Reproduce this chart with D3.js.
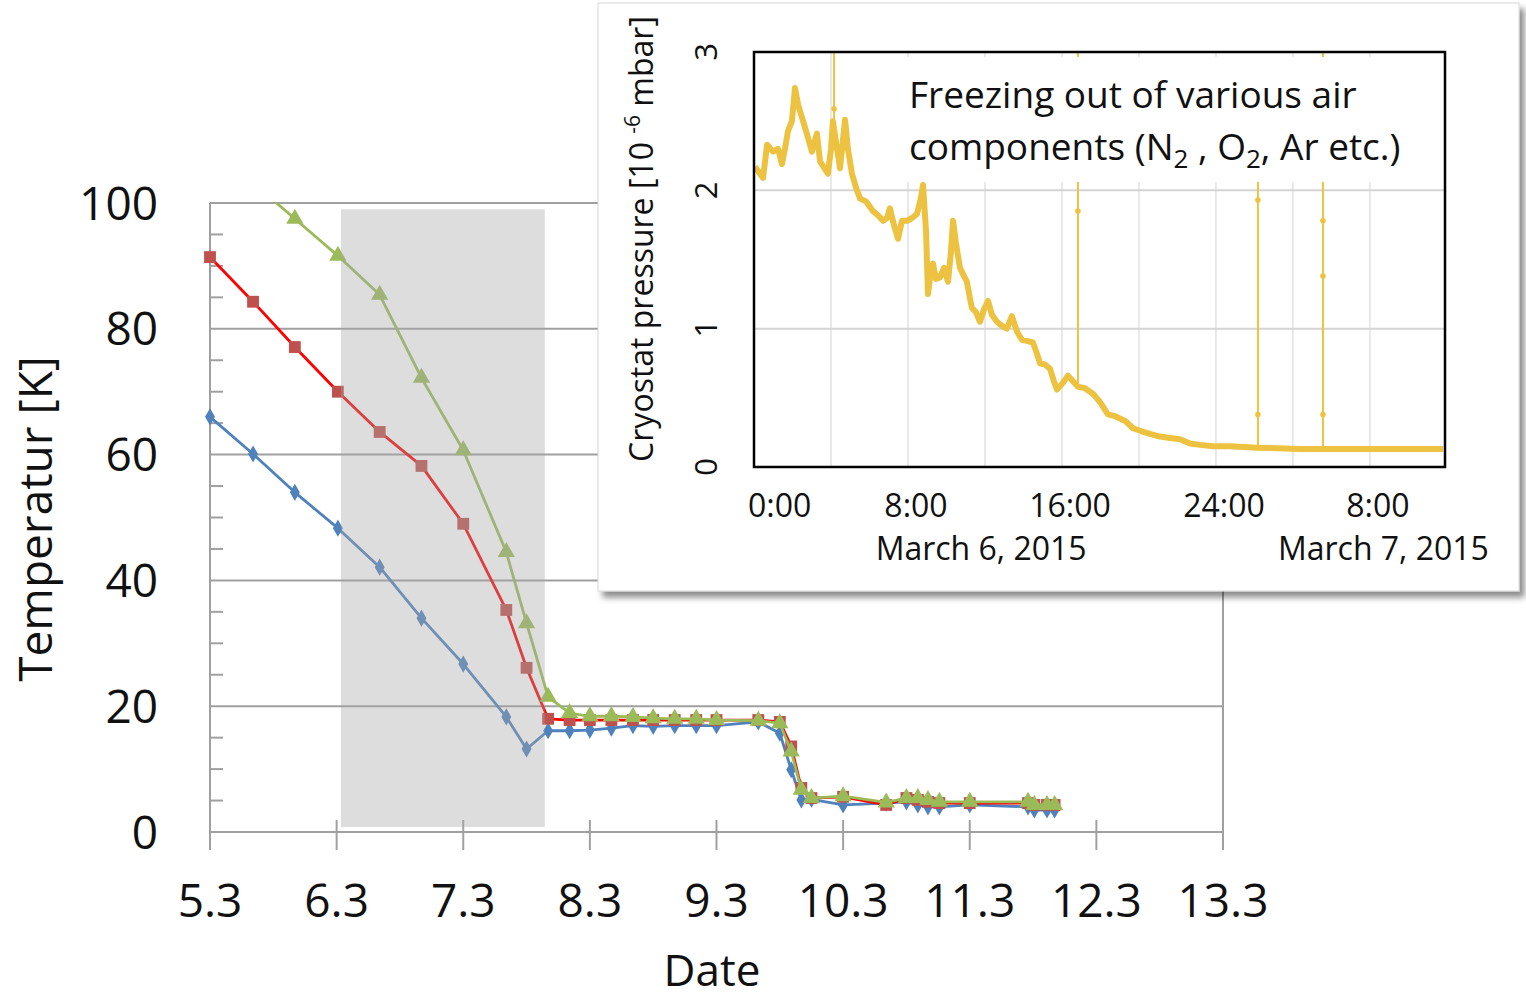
<!DOCTYPE html>
<html><head><meta charset="utf-8">
<script src="https://cdn.jsdelivr.net/npm/d3@7"></script>
<style>
html,body{margin:0;padding:0;background:#fff;}
svg{display:block;font-family:"Open Sans",sans-serif;}
</style></head><body>
<svg id="chart" width="1526" height="998"></svg>
<script>
// ---------- main chart data (x = day of March) ----------
const days = [5.00,5.34,5.67,6.01,6.34,6.67,7.00,7.34,7.50,7.67,7.84,8.00,8.17,8.34,8.50,8.67,8.84,9.00,9.33,9.50,9.59,9.67,9.75,10.00,10.34,10.50,10.59,10.67,10.76,11.00,11.46,11.51,11.61,11.67];
const blueT  = [66.0,60.1,54.0,48.3,42.1,34.0,26.7,18.3,13.2,16.1,16.1,16.2,16.5,16.9,16.8,16.9,16.9,16.9,17.5,15.7,9.9,5.1,5.2,4.3,4.6,4.8,4.3,4.0,4.0,4.3,4.0,3.5,3.5,3.5];
const redT   = [91.4,84.3,77.1,70.0,63.6,58.2,49.0,35.3,26.1,18.0,17.8,17.8,17.8,17.8,17.8,17.8,17.8,17.8,17.8,17.5,13.6,7.0,5.4,5.6,4.3,5.4,5.1,4.8,4.6,4.6,4.6,4.3,4.3,4.3];
const greenT = [null,103.2,97.5,91.6,85.4,72.2,60.7,44.5,33.2,21.5,18.9,18.4,18.4,18.3,18.1,18.0,18.0,17.8,17.7,17.3,12.8,6.7,5.4,5.7,4.7,5.4,5.4,5.1,4.8,4.8,4.8,4.3,4.3,4.3];
const xTicks = [5,6,7,8,9,10,11,12,13];
const xTickLabels = ["5.3","6.3","7.3","8.3","9.3","10.3","11.3","12.3","13.3"];
const yTicks = [0,20,40,60,80,100];
const yMinor = [5,10,15,25,30,35,45,50,55,65,70,75,85,90,95];
const shadeDays = [6.034, 7.644];
const shadeTemps = [0.8, 99];

// ---------- inset data (x = hours since 0:00 March 6) ----------
const pHours = [0.05,0.47,0.68,0.99,1.25,1.45,1.61,1.77,1.97,2.13,2.29,2.55,2.81,3.01,3.27,3.43,3.84,4.0,4.10,4.26,4.47,4.73,4.88,5.09,5.30,5.51,5.82,6.18,6.44,6.70,6.91,7.06,7.27,7.48,7.69,7.95,8.21,8.47,8.68,8.78,8.94,9.04,9.19,9.30,9.45,9.66,9.87,10.08,10.23,10.34,10.49,10.70,10.91,11.06,11.22,11.32,11.53,11.74,11.95,12.16,12.36,12.62,12.88,13.14,13.40,13.66,13.92,14.23,14.49,14.70,14.86,15.12,15.38,15.58,15.74,16.0,16.31,16.57,16.83,17.19,17.61,17.97,18.39,18.70,19.01,19.32,19.69,20.10,20.57,21.09,21.61,22.13,22.65,23.17,23.84,24.73,26.13,28.36,30.96,33.56,35.8];
const pValues = [2.17,2.09,2.33,2.28,2.30,2.19,2.30,2.43,2.50,2.74,2.62,2.50,2.38,2.28,2.41,2.21,2.12,2.30,2.50,2.35,2.16,2.51,2.30,2.12,2.02,1.94,1.92,1.85,1.82,1.78,1.80,1.87,1.75,1.65,1.78,1.78,1.80,1.83,1.95,2.04,1.70,1.25,1.42,1.47,1.36,1.37,1.44,1.34,1.55,1.78,1.62,1.44,1.38,1.34,1.22,1.15,1.12,1.05,1.14,1.20,1.10,1.05,1.02,1.00,1.09,0.98,0.92,0.91,0.90,0.82,0.75,0.74,0.71,0.62,0.56,0.60,0.66,0.62,0.58,0.57,0.53,0.47,0.38,0.37,0.35,0.33,0.28,0.26,0.24,0.22,0.21,0.20,0.17,0.16,0.15,0.15,0.14,0.13,0.13,0.13,0.13];
const spikeHours = [4.16, 16.83, 26.18, 29.56];
const spikeBase  = [2.35, 0.58, 0.14, 0.13];
const spikeTop   = [3.3, 3.3, 2.9, 3.3];
const spikeDotH  = [4.16, 16.83, 26.18, 26.18, 29.56, 29.56, 29.56];
const spikeDotV  = [2.59, 1.85, 1.93, 0.38, 1.78, 1.38, 0.38];
const pTicks = [0,1,2,3];
const hourGrid = [4,8,12,16,20,24,28,32];
const hourLabels = ["0:00","8:00","16:00","24:00","8:00"];
const hourLabelAt = [0,8,16,24,32];
const dateLabels = ["March 6, 2015","March 7, 2015"];
const dateLabelAt = [11.8, 32.7];

const svg = d3.select("#chart");
const defs = svg.append("defs");

// ---------- main chart ----------
const x = d3.scaleLinear().domain([5,13]).range([210,1223]);
const y = d3.scaleLinear().domain([0,100]).range([832,203]);
const axisColor = "#a0a0a0";

defs.append("clipPath").attr("id","mainClip").append("rect")
  .attr("x",180).attr("y",y(100)).attr("width",1080).attr("height",y(0)-y(100)+40);

const g = svg.append("g");
g.selectAll(".grid").data(yTicks.filter(d=>d>0)).join("line")
  .attr("x1",x(5)).attr("x2",x(13)).attr("y1",d=>y(d)).attr("y2",d=>y(d))
  .attr("stroke",axisColor).attr("stroke-width",2);
g.selectAll(".minor").data(yMinor).join("line")
  .attr("x1",x(5)).attr("x2",x(5)+13).attr("y1",d=>y(d)).attr("y2",d=>y(d))
  .attr("stroke",axisColor).attr("stroke-width",2);
g.append("line").attr("x1",x(5)).attr("x2",x(5)).attr("y1",y(100)).attr("y2",y(0)+18).attr("stroke",axisColor).attr("stroke-width",2);
g.append("line").attr("x1",x(13)).attr("x2",x(13)).attr("y1",y(100)).attr("y2",y(0)+18).attr("stroke",axisColor).attr("stroke-width",2);
g.append("line").attr("x1",x(5)).attr("x2",x(13)).attr("y1",y(0)).attr("y2",y(0)).attr("stroke",axisColor).attr("stroke-width",2);
g.selectAll(".xt").data(xTicks).join("line")
  .attr("x1",d=>x(d)).attr("x2",d=>x(d)).attr("y1",y(0)-12).attr("y2",y(0)+18)
  .attr("stroke",axisColor).attr("stroke-width",2);
g.selectAll(".xl").data(xTicks).join("text")
  .attr("x",d=>x(d)).attr("y",917).attr("text-anchor","middle")
  .attr("font-size",46).attr("fill","#111").text((d,i)=>xTickLabels[i]);
g.selectAll(".yl").data(yTicks).join("text")
  .attr("x",158).attr("y",d=>y(d)).attr("dy","0.36em").attr("text-anchor","end")
  .attr("font-size",46).attr("fill","#111").text(d=>d);
g.append("text").attr("x",712).attr("y",986).attr("text-anchor","middle")
  .attr("font-size",44).attr("fill","#111").text("Date");
g.append("text").attr("transform","translate(52,519) rotate(-90)").attr("text-anchor","middle")
  .attr("font-size",46).attr("fill","#111").text("Temperatur [K]");

const series = [
  {vals: blueT, line:"#4f81bd", mark:"#4f81bd", shape:d3.symbolDiamond, size:85},
  {vals: redT, line:"#ff0000", mark:"#c0504d", shape:d3.symbolSquare, size:140},
  {vals: greenT, line:"#9bbb59", mark:"#9bbb59", shape:d3.symbolTriangle, size:130}
];
const plot = g.append("g").attr("clip-path","url(#mainClip)");
series.forEach(s=>{
  const pts = days.map((d,i)=>[d,s.vals[i]]).filter(p=>p[1]!==null);
  plot.append("path").datum(pts)
    .attr("d", d3.line().x(p=>x(p[0])).y(p=>y(p[1])))
    .attr("fill","none").attr("stroke",s.line).attr("stroke-width",2.8).attr("stroke-linejoin","round");
  plot.selectAll(null).data(pts).join("path")
    .attr("transform",p=>`translate(${x(p[0])},${y(p[1])})`)
    .attr("d", d3.symbol().type(s.shape).size(s.size))
    .attr("fill",s.mark);
});
g.append("rect")
  .attr("x",x(shadeDays[0])).attr("width",x(shadeDays[1])-x(shadeDays[0]))
  .attr("y",y(shadeTemps[1])).attr("height",y(shadeTemps[0])-y(shadeTemps[1]))
  .attr("fill","#a6a6a6").attr("fill-opacity",0.38);

// ---------- inset ----------
const f = defs.append("filter").attr("id","shadow").attr("x","-5%").attr("y","-5%").attr("width","115%").attr("height","115%");
f.append("feDropShadow").attr("dx",5).attr("dy",6).attr("stdDeviation",3).attr("flood-color","#000").attr("flood-opacity",0.45);

const ins = svg.append("g");
ins.append("rect").attr("x",598).attr("y",3).attr("width",921).attr("height",588)
  .attr("fill","#fff").attr("stroke","#d8d8d8").attr("stroke-width",1).attr("filter","url(#shadow)");

const px = d3.scaleLinear().domain([0,35.9]).range([754,1445]);
const py = d3.scaleLinear().domain([0,3]).range([467,52]);
defs.append("clipPath").attr("id","insClip").append("rect")
  .attr("x",px(0)).attr("y",py(3)).attr("width",px(35.9)-px(0)).attr("height",py(0)-py(3));

ins.selectAll(".vg").data(hourGrid).join("line")
  .attr("x1",d=>px(d)).attr("x2",d=>px(d)).attr("y1",py(3)).attr("y2",py(0))
  .attr("stroke","#e2e2e2").attr("stroke-width",1.5);
ins.selectAll(".hg").data([1,2]).join("line")
  .attr("x1",px(0)).attr("x2",px(35.9)).attr("y1",d=>py(d)).attr("y2",d=>py(d))
  .attr("stroke","#d4d4d4").attr("stroke-width",2);

const ip = ins.append("g").attr("clip-path","url(#insClip)");
const pc = "#edc240";
ip.selectAll(".sp").data(spikeHours).join("line")
  .attr("x1",d=>px(d)).attr("x2",d=>px(d)).attr("y1",(d,i)=>py(spikeBase[i])).attr("y2",(d,i)=>py(spikeTop[i]))
  .attr("stroke",pc).attr("stroke-width",2);
ip.selectAll(".sd").data(spikeDotH).join("circle")
  .attr("cx",d=>px(d)).attr("cy",(d,i)=>py(spikeDotV[i])).attr("r",2.8).attr("fill",pc);
ip.append("path").datum(pHours.map((h,i)=>[h,pValues[i]]))
  .attr("d", d3.line().x(p=>px(p[0])).y(p=>py(p[1])))
  .attr("fill","none").attr("stroke",pc).attr("stroke-width",6).attr("stroke-linejoin","round");

ins.append("rect").attr("x",905).attr("y",57).attr("width",505).attr("height",125).attr("fill","#fff");
ins.append("text").attr("x",909).attr("y",108).attr("font-size",37).attr("fill","#111")
  .text("Freezing out of various air");
const t2 = ins.append("text").attr("x",909).attr("y",160).attr("font-size",37).attr("fill","#111");
t2.append("tspan").text("components (N");
t2.append("tspan").attr("font-size",26).attr("dy",8).text("2");
t2.append("tspan").attr("dy",-8).text(" , O");
t2.append("tspan").attr("font-size",26).attr("dy",8).text("2");
t2.append("tspan").attr("dy",-8).text(", Ar etc.)");

ins.append("rect").attr("x",px(0)).attr("y",py(3)).attr("width",px(35.9)-px(0)).attr("height",py(0)-py(3))
  .attr("fill","none").attr("stroke","#000").attr("stroke-width",2.5);

ins.selectAll(".pl").data(pTicks).join("text")
  .attr("transform",d=>`translate(717,${py(d)}) rotate(-90)`).attr("text-anchor","middle")
  .attr("font-size",31).attr("fill","#111").text(d=>d);
const tt = ins.append("text").attr("transform","translate(653,239) rotate(-90)").attr("text-anchor","middle")
  .attr("font-size",32).attr("fill","#111");
tt.append("tspan").text("Cryostat pressure [10 ");
tt.append("tspan").attr("font-size",21).attr("dy",-13).text("-6");
tt.append("tspan").attr("dy",13).text(" mbar]");

ins.selectAll(".hl").data(hourLabelAt).join("text")
  .attr("x",(d,i)=> i===0 ? px(d)-6 : px(d)+8).attr("y",517)
  .attr("text-anchor",(d,i)=> i===0 ? "start" : "middle")
  .attr("font-size",32).attr("fill","#111").text((d,i)=>hourLabels[i]);
ins.selectAll(".dl").data(dateLabelAt).join("text")
  .attr("x",d=>px(d)).attr("y",560).attr("text-anchor","middle")
  .attr("font-size",32).attr("fill","#111").text((d,i)=>dateLabels[i]);
</script>
</body></html>
